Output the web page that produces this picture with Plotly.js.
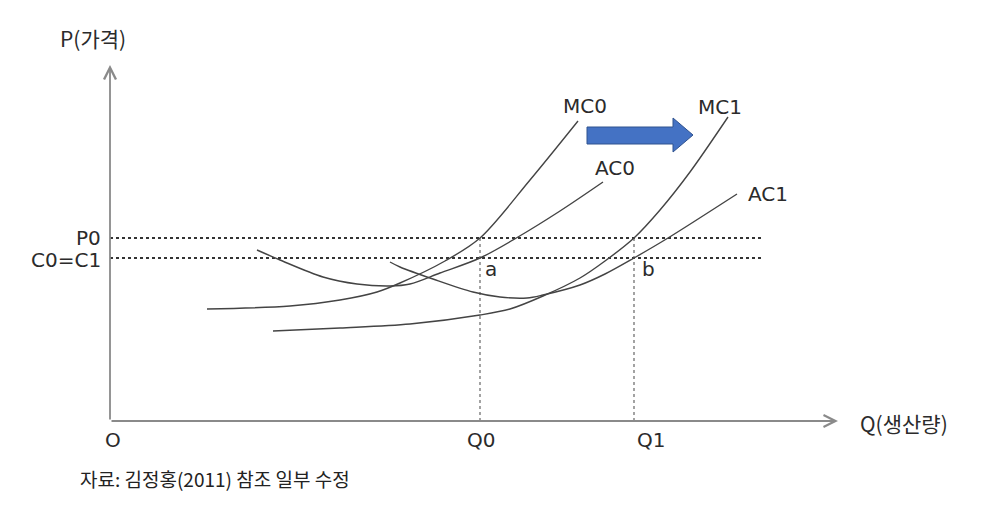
<!DOCTYPE html>
<html>
<head>
<meta charset="utf-8">
<script src="https://cdn.plot.ly/plotly-3.0.1.min.js"></script>
<style>
html,body{margin:0;padding:0;background:#fff;}
#chart{width:987px;height:505px;}
</style>
</head>
<body>
<div id="chart"></div>
<script>
// ---- Data (Q = quantity, P = price) ----
const Q_MC0 = [97, 180, 230, 267, 290, 335, 370, 420, 468];
const P_MC0 = [112, 115, 121, 129, 138, 160, 183, 241, 300];

const Q_AC0 = [147, 170, 213, 247, 280, 300, 330, 370, 408, 450, 493];
const P_AC0 = [171, 161, 144, 137, 135, 137, 148, 163, 184, 210, 239];

const Q_MC1 = [163, 230, 300, 370, 400, 433, 470, 495, 524, 550, 580, 618];
const P_MC1 = [90, 93, 97, 106, 112, 125, 143, 160, 183, 211, 249, 304];

const Q_AC1 = [280, 290, 323, 363, 390, 417, 433, 470, 495, 524, 558, 627];
const P_AC1 = [159, 154, 142, 129, 124, 123, 126, 136, 147, 163, 183, 227];

const P0 = 183;        // price
const C01 = 163;       // C0 = C1 average cost
const Q0 = 370;
const Q1 = 524;
const levelEnd = 652;  // extent of the dotted price lines
const xAxisEnd = 728;
const yAxisEnd = 356;

const curveNames = ["MC0", "AC0", "MC1", "AC1"];
const pointLabels = ["a", "b"];
const tickLabelsX = ["O", "Q0", "Q1"];
const tickLabelsY = ["P0", "C0=C1"];
const axisTitles = ["P(가격)", "Q(생산량)"];
const sourceNote = "자료: 김정홍(2011) 참조 일부 수정";

const curveLine = {color: "#444", width: 1.4, shape: "spline", smoothing: 0.9};
function curve(x, y, name) {
  return {x: x, y: y, name: name, mode: "lines", type: "scatter",
          line: curveLine, hoverinfo: "skip", showlegend: false};
}
const hDot = {color: "#333", width: 2, dash: "dot"};
const vDot = {color: "#666", width: 1.2, dash: "dot"};

const traces = [
  {x: [0, levelEnd], y: [P0, P0], mode: "lines", line: hDot, showlegend: false, hoverinfo: "skip"},
  {x: [0, levelEnd], y: [C01, C01], mode: "lines", line: hDot, showlegend: false, hoverinfo: "skip"},
  {x: [Q0, Q0], y: [0, P0], mode: "lines", line: vDot, showlegend: false, hoverinfo: "skip"},
  {x: [Q1, Q1], y: [0, P0], mode: "lines", line: vDot, showlegend: false, hoverinfo: "skip"},
  curve(Q_MC0, P_MC0, curveNames[0]),
  curve(Q_AC0, P_AC0, curveNames[1]),
  curve(Q_MC1, P_MC1, curveNames[2]),
  curve(Q_AC1, P_AC1, curveNames[3])
];

const F = "DejaVu Sans, Noto Sans CJK KR, sans-serif";
const KF = "Noto Sans CJK KR, DejaVu Sans, sans-serif";
function label(text, x, y, opts) {
  return Object.assign({text: text, x: x, y: y, xref: "x", yref: "y", showarrow: false,
    font: {family: F, size: 20, color: "#2b2b2b"}}, opts || {});
}

const annotations = [
  // axes with open arrow heads
  {x: xAxisEnd, y: 0, ax: 0, ay: 0, axref: "x", ayref: "y", xref: "x", yref: "y",
   showarrow: true, arrowhead: 5, arrowsize: 1.3, arrowwidth: 1.8, arrowcolor: "#8a8a8a", text: ""},
  {x: 0, y: yAxisEnd, ax: 0, ay: 0, axref: "x", ayref: "y", xref: "x", yref: "y",
   showarrow: true, arrowhead: 5, arrowsize: 1.3, arrowwidth: 1.8, arrowcolor: "#8a8a8a", text: ""},
  label(axisTitles[0], -17, 383, {font: {family: KF, size: 21, color: "#2b2b2b"}}),
  label(axisTitles[1], 748, -2, {xanchor: "left", font: {family: KF, size: 21, color: "#2b2b2b"}}),
  label(tickLabelsX[0], 3, -19),
  label(tickLabelsX[1], Q0 + 1, -19),
  label(tickLabelsX[2], Q1 + 17, -19),
  label(tickLabelsY[0], -7, P0, {xanchor: "right"}),
  label(tickLabelsY[1], -7, C01 - 2, {xanchor: "right"}),
  label(pointLabels[0], 381, 152),
  label(pointLabels[1], 538, 152),
  label(curveNames[0], 475, 315),
  label(curveNames[1], 505, 253),
  label(curveNames[2], 610, 314),
  label(curveNames[3], 658, 227),
  {text: sourceNote, x: -32, y: -57, xref: "x", yref: "y", xanchor: "left", showarrow: false,
   font: {family: KF, size: 19, color: "#222"}}
];

const shapes = [
  {type: "path", xref: "x", yref: "y",
   path: "M477,294 L563,294 L563,303 L583,286 L563,269 L563,277 L477,277 Z",
   fillcolor: "#4472C4", line: {color: "#2F528F", width: 1}}
];

const layout = {
  width: 987, height: 505,
  margin: {l: 0, r: 0, t: 0, b: 0},
  paper_bgcolor: "#fff", plot_bgcolor: "#fff",
  xaxis: {range: [-110, 877], visible: false, fixedrange: true},
  yaxis: {range: [-84, 421], visible: false, fixedrange: true},
  showlegend: false,
  annotations: annotations,
  shapes: shapes
};

Plotly.newPlot("chart", traces, layout, {staticPlot: true, displayModeBar: false});
</script>
</body>
</html>
